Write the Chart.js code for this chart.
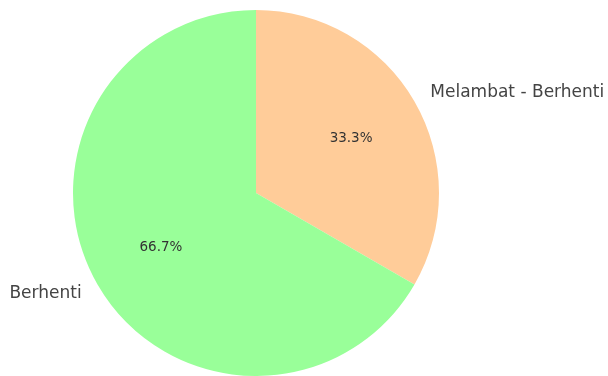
<!DOCTYPE html>
<html>
<head>
<meta charset="utf-8">
<script src="https://cdn.jsdelivr.net/npm/chart.js@4/dist/chart.umd.min.js"></script>
<style>
  html, body { margin: 0; padding: 0; background: #fff; }
  #wrap { width: 608px; height: 376px; }
</style>
</head>
<body>
<div id="wrap"><canvas id="pie"></canvas></div>
<script>
var labels = ["Melambat - Berhenti", "Berhenti"];
var values = [1, 2];
var colors = ["#ffcc99", "#99ff99"];

// draws the outside labels and the percentages like matplotlib's autopct
var pieLabels = {
    id: 'pieLabels',
    afterDatasetsDraw: function (chart) {
        var ctx = chart.ctx;
        var meta = chart.getDatasetMeta(0);
        var total = values.reduce(function (a, b) { return a + b; }, 0);
        meta.data.forEach(function (arc, i) {
            var mid = (arc.startAngle + arc.endAngle) / 2;
            var r = arc.outerRadius;
            var cx = arc.x, cy = arc.y;
            var dx = Math.cos(mid), dy = Math.sin(mid);
            ctx.save();
            ctx.textBaseline = 'middle';
            ctx.fillStyle = '#333';
            ctx.font = '13.5px "DejaVu Sans"';
            ctx.textAlign = 'center';
            var pct = (values[i] / total * 100).toFixed(1) + '%';
            ctx.fillText(pct, cx + dx * r * 0.6, cy + dy * r * 0.6);
            ctx.fillStyle = '#444';
            ctx.font = '17px "DejaVu Sans"';
            ctx.textAlign = dx >= 0 ? 'left' : 'right';
            ctx.fillText(labels[i], cx + dx * r * 1.1, cy + dy * r * 1.1);
            ctx.restore();
        });
    }
};

var ctx = document.getElementById("pie").getContext('2d');
var myChart = new Chart(ctx, {
    type: 'pie',
    data: {
        labels: labels,
        datasets: [{
            data: values,
            backgroundColor: colors,
            borderWidth: 0
        }]
    },
    options: {
        responsive: true,
        maintainAspectRatio: false,
        animation: false,
        events: [],
        layout: { padding: { left: 73, right: 169, top: 10, bottom: 0 } },
        plugins: {
            legend: { display: false },
            tooltip: { enabled: false }
        }
    },
    plugins: [pieLabels]
});
</script>
</body>
</html>
